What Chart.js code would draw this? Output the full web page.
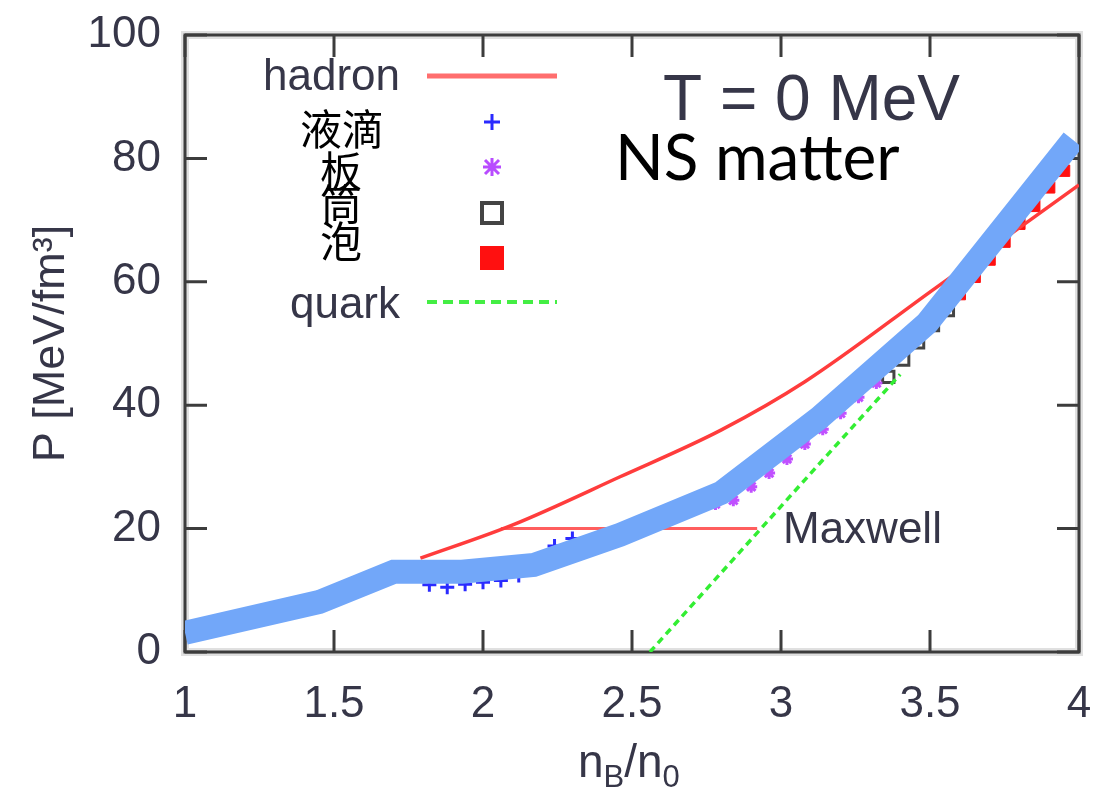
<!DOCTYPE html>
<html>
<head>
<meta charset="utf-8">
<script src="https://cdn.jsdelivr.net/npm/chart.js@4.4.0/dist/chart.umd.min.js"></script>
<style>
  html, body { margin: 0; padding: 0; background: #fff; }
  #wrap { width: 1094px; height: 791px; }
</style>
</head>
<body>
<div id="wrap"><canvas id="eosChart" width="1094" height="791"></canvas></div>
<script>
// n_B/n_0 on x, pressure P [MeV/fm^3] on y
const nsMatterX = [1.0, 1.45, 1.70, 1.93, 2.17, 2.46, 2.80, 3.13, 3.49, 3.98];
const nsMatterP = [3.1, 8.1, 13.0, 13.0, 14.1, 19.0, 25.8, 38.0, 53.3, 83.0];

const hadronX = [1.79, 2.10, 2.46, 2.80, 3.08, 3.51, 4.0];
const hadronP = [15.2, 20.6, 28.4, 36.0, 43.8, 58.7, 75.7];

const quarkX = [2.56, 3.08, 3.40];
const quarkP = [0.0, 27.9, 45.0];

const maxwellX = [2.06, 2.92];
const maxwellP = [20.0, 20.0];

// pasta phases
const dropletX = [1.82, 1.88, 1.94, 2.00, 2.06, 2.12, 2.18, 2.24, 2.30];
const dropletP = [10.9, 10.5, 11.0, 11.3, 11.6, 12.4, 14.0, 17.2, 18.4];
const slabX = [2.36, 2.42, 2.48, 2.54, 2.60, 2.66, 2.72, 2.78, 2.84, 2.90, 2.96, 3.02, 3.08, 3.14, 3.20, 3.26, 3.32];
const slabP = [17.4, 18.4, 19.5, 20.6, 21.6, 22.6, 23.6, 24.0, 24.6, 26.8, 29.0, 31.3, 33.7, 36.1, 38.7, 41.3, 43.6];
const rodX = [3.36, 3.41, 3.46, 3.51, 3.56];
const rodP = [44.6, 47.4, 50.2, 53.0, 55.4];
const bubbleX = [3.60, 3.65, 3.70, 3.75, 3.80, 3.85, 3.90, 3.95];
const bubbleP = [58.0, 60.8, 63.6, 66.5, 69.4, 72.3, 75.3, 78.0];

const xTicks = [1, 1.5, 2, 2.5, 3, 3.5, 4];
const yTicks = [0, 20, 40, 60, 80, 100];

const gnuText = '#363648';
const gnuFont = '"Liberation Sans", Arial, sans-serif';

const toPoints = (xs, ys) => xs.map((v, i) => ({ x: v, y: ys[i] }));

// box frame with inward ticks on all four sides
const frameTicks = {
  id: 'frameTicks',
  beforeDatasetsDraw(chart) {
    const { ctx, chartArea: a, scales: { x, y } } = chart;
    const w = a.right - a.left, h = a.bottom - a.top;
    const len = 22;
    ctx.save();
    ctx.strokeStyle = 'rgba(0,0,0,0.12)';
    ctx.lineWidth = 8;
    ctx.strokeRect(a.left, a.top, w, h);
    ctx.strokeStyle = '#3c3c3c';
    ctx.lineWidth = 3;
    ctx.strokeRect(a.left, a.top, w, h);
    ctx.beginPath();
    xTicks.forEach(t => {
      const px = x.getPixelForValue(t);
      ctx.moveTo(px, a.bottom); ctx.lineTo(px, a.bottom - len);
      ctx.moveTo(px, a.top); ctx.lineTo(px, a.top + len);
    });
    yTicks.forEach(t => {
      const py = y.getPixelForValue(t);
      ctx.moveTo(a.left, py); ctx.lineTo(a.left + len, py);
      ctx.moveTo(a.right, py); ctx.lineTo(a.right - len, py);
    });
    ctx.stroke();
    ctx.restore();
  }
};

// key, labels and x axis title
const notes = {
  id: 'notes',
  afterDraw(chart) {
    const { ctx } = chart;
    ctx.save();

    ctx.fillStyle = gnuText;
    ctx.textBaseline = 'alphabetic';
    ctx.font = '44px ' + gnuFont;
    ctx.textAlign = 'right';
    ctx.fillText('hadron', 400, 90);
    ctx.fillText('quark', 400, 318);
    ctx.textAlign = 'left';
    ctx.fillText('Maxwell', 783, 543);

    ctx.font = '64px ' + gnuFont;
    ctx.fillText('T = 0 MeV', 663, 120);

    ctx.fillStyle = '#000';
    ctx.font = '64px Lato, "Noto Sans", sans-serif';
    ctx.fillText('NS matter', 615, 180, 298);

    ctx.font = '42px "Noto Sans CJK SC", sans-serif';
    ctx.textAlign = 'center';
    ctx.textBaseline = 'middle';
    ctx.fillText('液滴', 342, 129);
    ctx.fillText('板', 341, 171);
    ctx.fillText('筒', 341, 204);
    ctx.fillText('泡', 341, 241);

    // key samples
    ctx.lineCap = 'butt';
    ctx.strokeStyle = '#ff6e6e';
    ctx.lineWidth = 5;
    ctx.beginPath(); ctx.moveTo(427, 76); ctx.lineTo(557, 76); ctx.stroke();

    ctx.strokeStyle = '#44ee44';
    ctx.lineWidth = 4;
    ctx.setLineDash([10, 6]);
    ctx.beginPath(); ctx.moveTo(427, 302); ctx.lineTo(557, 302); ctx.stroke();
    ctx.setLineDash([]);

    ctx.strokeStyle = '#2a2aff';
    ctx.lineWidth = 3;
    ctx.beginPath();
    ctx.moveTo(484, 122); ctx.lineTo(500, 122);
    ctx.moveTo(492, 114); ctx.lineTo(492, 130);
    ctx.stroke();

    ctx.strokeStyle = '#b84cff';
    ctx.lineWidth = 3;
    ctx.beginPath();
    ctx.moveTo(483, 167); ctx.lineTo(501, 167);
    ctx.moveTo(492, 158); ctx.lineTo(492, 176);
    ctx.moveTo(485, 160); ctx.lineTo(499, 174);
    ctx.moveTo(499, 160); ctx.lineTo(485, 174);
    ctx.stroke();

    ctx.strokeStyle = '#444';
    ctx.lineWidth = 4;
    ctx.strokeRect(482, 203, 20, 20);

    ctx.fillStyle = '#ff1010';
    ctx.fillRect(480, 246, 24, 24);

    // x axis title n_B/n_0
    ctx.fillStyle = gnuText;
    ctx.textAlign = 'left';
    ctx.textBaseline = 'alphabetic';
    const base = 777;
    let cx = 578;
    const big = '46px ' + gnuFont, small = '31px ' + gnuFont;
    const put = (s, f, dy) => { ctx.font = f; ctx.fillText(s, cx, base + dy); cx += ctx.measureText(s).width; };
    put('n', big, 0);
    put('B', small, 10);
    put('/n', big, 0);
    put('0', small, 10);

    ctx.restore();
  }
};

const chart = new Chart(document.getElementById('eosChart').getContext('2d'), {
  type: 'scatter',
  data: {
    datasets: [
      {
        label: 'NS matter',
        data: toPoints(nsMatterX, nsMatterP),
        showLine: true,
        borderColor: '#72a7f9',
        borderWidth: 24,
        borderCapStyle: 'butt',
        borderJoinStyle: 'miter',
        pointRadius: 0,
        tension: 0
      },
      {
        label: 'hadron',
        data: toPoints(hadronX, hadronP),
        showLine: true,
        borderColor: '#ff3c3c',
        borderWidth: 3.5,
        pointRadius: 0,
        cubicInterpolationMode: 'monotone'
      },
      {
        label: 'Maxwell',
        data: toPoints(maxwellX, maxwellP),
        showLine: true,
        borderColor: '#ff5e5e',
        borderWidth: 3,
        pointRadius: 0
      },
      {
        label: 'quark',
        data: toPoints(quarkX, quarkP),
        showLine: true,
        borderColor: '#33ee33',
        borderWidth: 3.5,
        borderDash: [7, 5],
        pointRadius: 0
      },
      {
        label: '液滴',
        data: toPoints(dropletX, dropletP),
        pointStyle: 'cross',
        pointRadius: 7,
        borderColor: '#2a2aff',
        borderWidth: 3
      },
      {
        label: '板',
        data: toPoints(slabX, slabP),
        pointStyle: 'star',
        pointRadius: 6,
        borderColor: '#c050ff',
        borderWidth: 3
      },
      {
        label: '筒',
        data: toPoints(rodX, rodP),
        pointStyle: 'rect',
        pointRadius: 8,
        backgroundColor: 'rgba(0,0,0,0)',
        borderColor: '#444',
        borderWidth: 3
      },
      {
        label: '泡',
        data: toPoints(bubbleX, bubbleP),
        pointStyle: 'rect',
        pointRadius: 8,
        backgroundColor: '#ff1010',
        borderColor: '#ff1010',
        borderWidth: 1
      }
    ]
  },
  options: {
    responsive: false,
    animation: false,
    layout: { autoPadding: false, padding: { top: 35, right: 15, left: 0, bottom: 0 } },
    plugins: {
      legend: { display: false },
      tooltip: { enabled: false }
    },
    scales: {
      x: {
        type: 'linear',
        min: 1,
        max: 4,
        afterFit: s => { s.height = 139; s.paddingLeft = 0; s.paddingRight = 0; },
        afterBuildTicks: s => { s.ticks = xTicks.map(v => ({ value: v })); },
        grid: { display: false, drawTicks: false },
        border: { display: false },
        ticks: {
          padding: 26,
          color: gnuText,
          font: { family: gnuFont, size: 44 },
          maxRotation: 0,
          callback: v => String(v)
        }
      },
      y: {
        type: 'linear',
        min: 0,
        max: 100,
        afterFit: s => { s.width = 185; s.paddingTop = 0; s.paddingBottom = 0; },
        afterBuildTicks: s => { s.ticks = yTicks.map(v => ({ value: v })); },
        grid: { display: false, drawTicks: false },
        border: { display: false },
        title: {
          display: true,
          text: 'P [MeV/fm³]',
          color: gnuText,
          font: { family: gnuFont, size: 45 },
          padding: { top: 25, bottom: 0 }
        },
        ticks: {
          padding: 24,
          color: gnuText,
          font: { family: gnuFont, size: 44 },
          callback: v => String(v)
        }
      }
    }
  },
  plugins: [frameTicks, notes]
});
</script>
</body>
</html>
